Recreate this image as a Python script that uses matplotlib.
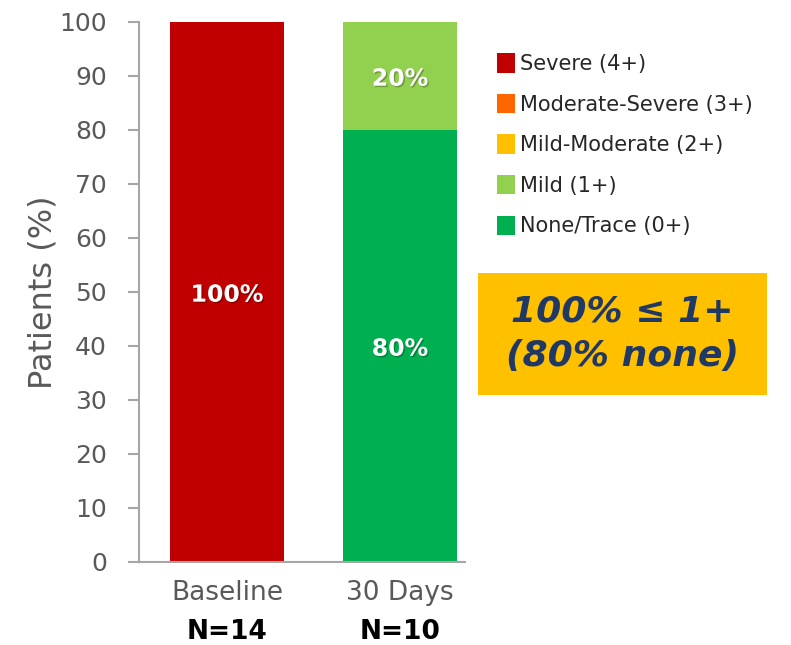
import matplotlib.pyplot as plt
import matplotlib.patheffects as pe
from matplotlib.patches import Patch
from matplotlib.transforms import blended_transform_factory

plt.rcParams['font.family'] = ['DejaVu Sans']

# stacked grade shares per visit (%)
timepoints = ['Baseline', '30 Days']
n_labels = ['N=14', 'N=10']
grades = ['Severe (4+)', 'Moderate-Severe (3+)', 'Mild-Moderate (2+)',
          'Mild (1+)', 'None/Trace (0+)']
grade_colors = ['#C00000', '#FF6600', '#FFC000', '#92D050', '#00B050']
none_trace = [0, 80]
mild = [0, 20]
mild_moderate = [0, 0]
moderate_severe = [0, 0]
severe = [100, 0]

fig = plt.figure(figsize=(7.91, 6.45), dpi=100)
ax = fig.add_axes([0.1757, 0.1287, 0.4123, 0.8372])

x = [0, 1]
stack = [none_trace, mild, mild_moderate, moderate_severe, severe]
stack_colors = grade_colors[::-1]
shadow = [pe.withSimplePatchShadow(offset=(1, -1), shadow_rgbFace='black', alpha=0.25)]
bottom = [0, 0]
for vals, col in zip(stack, stack_colors):
    ax.bar(x, vals, width=0.66, bottom=bottom, color=col, zorder=2)
    for i, v in enumerate(vals):
        if v > 0:
            ax.text(x[i], bottom[i] + v / 2 - 0.5, f'{v}%', ha='center', va='center',
                    color='white', fontsize=17, fontweight='bold',
                    path_effects=shadow, zorder=3)
    bottom = [b + v for b, v in zip(bottom, vals)]

ax.set_xlim(-0.509, 1.376)
ax.set_ylim(0, 100)
ax.set_yticks(range(0, 101, 10))
ax.set_xticks([])
for s in ['top', 'right']:
    ax.spines[s].set_visible(False)
for s in ['left', 'bottom']:
    ax.spines[s].set_color('#A6A6A6')
    ax.spines[s].set_linewidth(1.5)
ax.tick_params(axis='y', colors='#A6A6A6', length=8, width=1.5,
               labelsize=18, labelcolor='#595959', pad=15)
ax.set_ylabel('Patients (%)', fontsize=23, color='#595959', labelpad=1)

trans = blended_transform_factory(ax.transData, ax.transAxes)
for xi, lab, n in zip(x, timepoints, n_labels):
    ax.text(xi, -0.058, lab, transform=trans, ha='center', va='center',
            fontsize=19, color='#595959')
    ax.text(xi, -0.13, n, transform=trans, ha='center', va='center',
            fontsize=19, color='black', fontweight='bold')

handles = [Patch(facecolor=c, edgecolor='none') for c in grade_colors]
fig.legend(handles, grades, loc='upper left', bbox_to_anchor=(0.61, 0.94),
           frameon=False, fontsize=15, handlelength=0.85, handleheight=1.05,
           handletextpad=0.25, labelspacing=0.95, labelcolor='#262626',
           borderpad=0.2)

fig.patches.append(plt.Rectangle((478 / 791, 1 - 395 / 645), 289 / 791, 122 / 645,
                                 transform=fig.transFigure, facecolor='#FFC000',
                                 edgecolor='none'))
fig.text(622 / 791, 1 - 334 / 645, '100% ≤ 1+\n(80% none)', ha='center',
         va='center', fontsize=26, fontweight='bold', fontstyle='italic',
         color='#1F3864', linespacing=1.38)

fig.savefig('out.png', dpi=100)
